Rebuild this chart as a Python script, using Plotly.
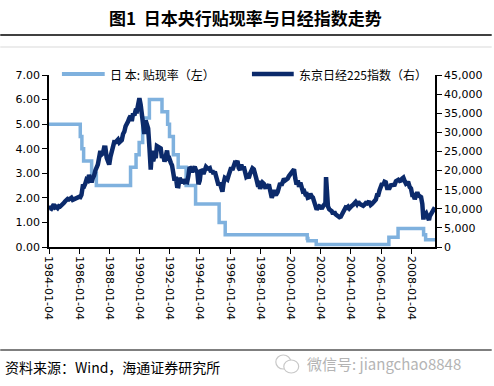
import plotly.graph_objects as go
import pandas as pd

# ---------------- data ----------------
title_text = "图1  日本央行贴现率与日经指数走势"
source_text = "资料来源：Wind，海通证券研究所"
watermark_text = "微信号: jiangchao8848"
rate_name = "日 本: 贴现率（左）"
nikkei_name = "东京日经225指数（右）"

tick_dates = ["1984-01-04", "1986-01-04", "1988-01-04", "1990-01-04", "1992-01-04",
              "1994-01-04", "1996-01-04", "1998-01-04", "2000-01-04", "2002-01-04",
              "2004-01-04", "2006-01-04", "2008-01-04"]

# Japan discount rate (%), step changes
rate_dates = ["1984-01-04", "1986-01-30", "1986-03-10", "1986-04-21", "1986-11-01",
              "1987-02-23", "1989-05-31", "1989-10-11", "1989-12-25", "1990-03-20",
              "1990-08-30", "1991-07-01", "1991-11-14", "1991-12-30", "1992-04-01",
              "1992-07-27", "1993-02-04", "1993-09-21", "1995-04-14", "1995-09-08",
              "2001-02-13", "2001-03-01", "2001-09-19", "2006-07-14", "2007-02-21",
              "2008-10-31", "2008-12-19", "2009-08-03"]
rate_values = [5.0, 4.5, 4.0, 3.5, 3.0,
               2.5, 3.25, 3.75, 4.25, 5.25,
               6.0, 5.5, 5.0, 4.5, 3.75,
               3.25, 2.5, 1.75, 1.0, 0.5,
               0.35, 0.25, 0.1, 0.4, 0.75,
               0.5, 0.3, 0.3]

# Nikkei 225, month-end closes Jan 1984 .. Jul 2009
nikkei_start_date = "1984-01-04"
nikkei_start_value = 9927
nikkei_monthly = [
    10196, 10024, 11042, 11174, 10338, 10503, 10196, 10686, 10579, 11076, 11204, 11543,
    11992, 12321, 12580, 12426, 12635, 12882, 12353, 12551, 12700, 12826, 12895, 13113,
    13024, 13640, 15859, 15825, 16576, 17654, 17419, 18820, 17852, 16911, 18053, 18701,
    20048, 20766, 21567, 23275, 25142, 24176, 24488, 26029, 26011, 23329, 22687, 21564,
    23622, 25242, 26260, 27434, 27418, 27769, 28112, 27366, 27924, 27983, 29579, 30159,
    31581, 31985, 32839, 33713, 34267, 32949, 34954, 34431, 35637, 35549, 37269, 38916,
    37189, 34592, 29980, 29584, 33131, 31940, 31036, 25978, 20984, 25194, 22455, 23849,
    23293, 26409, 26292, 26112, 25790, 23291, 24121, 22336, 23916, 25222, 22688, 22984,
    22023, 21339, 19346, 17391, 18348, 15952, 15910, 18061, 17399, 16767, 17684, 16925,
    17024, 16953, 18591, 20919, 20552, 19590, 20380, 21027, 20106, 19704, 16408, 17417,
    20229, 19997, 19112, 19725, 20973, 20644, 20462, 20629, 19564, 19990, 19076, 19723,
    18650, 17053, 16140, 16807, 15437, 14517, 16678, 18117, 17913, 17655, 18744, 19868,
    20813, 20125, 21407, 22041, 21956, 22531, 20693, 20167, 21556, 20466, 21020, 19361,
    18330, 18557, 18003, 19151, 20069, 20605, 20331, 18229, 17888, 16459, 16636, 15259,
    16628, 16832, 16527, 15641, 15671, 15830, 16379, 14108, 13406, 13565, 14884, 13842,
    13859, 14368, 15837, 16702, 16112, 17530, 17862, 17437, 17606, 17943, 18558, 18934,
    19540, 19960, 20337, 17974, 16332, 17411, 15727, 16861, 15747, 14539, 14649, 13786,
    13844, 12883, 12999, 13934, 13262, 12969, 11861, 10714, 9775, 10367, 10697, 10543,
    9998, 10588, 11025, 11493, 11764, 10622, 9877, 9619, 9383, 8640, 9216, 8579,
    8340, 8363, 7973, 7831, 8425, 9083, 9563, 10344, 10219, 10560, 10101, 10677,
    10784, 11042, 11715, 11762, 11236, 11859, 11326, 11082, 10824, 10771, 11069, 11489,
    11388, 11741, 11669, 11009, 11277, 11584, 11900, 12414, 13574, 13607, 14872, 16111,
    16650, 16205, 17060, 16906, 15467, 15505, 15457, 16141, 16128, 16399, 16274, 17226,
    17383, 17604, 17288, 17400, 17876, 18138, 17249, 16569, 16786, 16738, 15681, 15308,
    13592, 13603, 12526, 13850, 14339, 13481, 13377, 13073, 11260, 8577, 8512, 8860,
    7994, 7568, 8110, 8828, 9523, 9958, 10357,
]
# intra-month extremes visible in the daily series
nikkei_extra_dates = ["1990-10-01", "1995-07-03", "1998-10-09", "2002-05-15",
                      "2003-04-28", "2008-10-27", "2009-03-10"]
nikkei_extra_values = [20222, 14485, 12879, 18300, 7608, 7163, 7055]

# ---------------- build series ----------------
month_ends = pd.date_range("1984-01-31", periods=len(nikkei_monthly), freq="ME")
nk = pd.Series([nikkei_start_value] + nikkei_monthly,
               index=pd.to_datetime([nikkei_start_date]).append(month_ends))
nk = pd.concat([nk, pd.Series(nikkei_extra_values, index=pd.to_datetime(nikkei_extra_dates))]).sort_index()

light_blue = "#7FB1DE"
navy = "#0B2A6B"
cjk = "Noto Sans CJK SC"

fig = go.Figure()
fig.add_trace(go.Scatter(x=rate_dates, y=rate_values, mode="lines", line_shape="hv",
                         line=dict(color=light_blue, width=3.5), name=rate_name,
                         showlegend=False))
fig.add_trace(go.Scatter(x=nk.index, y=nk.values, mode="lines", yaxis="y2",
                         line=dict(color=navy, width=4.5), name=nikkei_name,
                         showlegend=False))

# pixel -> paper helpers (plot area: x 49..437, y 75..247)
L, R, T, B = 49, 437, 75, 247
def px(x):
    return (x - L) / (R - L)
def py(y):
    return (B - y) / (B - T)

shapes = [
    dict(type="line", xref="paper", yref="paper", x0=px(0), x1=px(494), y0=py(35), y1=py(35),
         line=dict(color="black", width=1.5)),
    dict(type="line", xref="paper", yref="paper", x0=px(0), x1=px(494), y0=py(47), y1=py(47),
         line=dict(color="#D9D9D9", width=1)),
    dict(type="line", xref="paper", yref="paper", x0=px(0), x1=px(494), y0=py(350), y1=py(350),
         line=dict(color="black", width=1.2)),
    # legend symbols
    dict(type="line", xref="paper", yref="paper", x0=px(62), x1=px(105), y0=py(74), y1=py(74),
         line=dict(color=light_blue, width=4)),
    dict(type="line", xref="paper", yref="paper", x0=px(253), x1=px(295), y0=py(74), y1=py(74),
         line=dict(color=navy, width=4.5)),
    # watermark icon (two bubbles)
    dict(type="circle", xref="paper", yref="paper", x0=px(277), x1=px(292), y0=py(369), y1=py(355),
         line=dict(color="#C8C8C8", width=1.2)),
    dict(type="circle", xref="paper", yref="paper", x0=px(285), x1=px(300), y0=py(373), y1=py(360),
         line=dict(color="#C8C8C8", width=1.2), fillcolor="white"),
]

annotations = [
    dict(text="<b>" + title_text + "</b>", xref="paper", yref="paper", x=px(247), y=py(17),
         xanchor="center", yanchor="middle", showarrow=False,
         font=dict(family=cjk, size=17, color="black")),
    dict(text=rate_name, xref="paper", yref="paper", x=px(108), y=py(74),
         xanchor="left", yanchor="middle", showarrow=False,
         font=dict(family=cjk, size=12, color="black")),
    dict(text=nikkei_name, xref="paper", yref="paper", x=px(298), y=py(74),
         xanchor="left", yanchor="middle", showarrow=False,
         font=dict(family=cjk, size=12, color="black")),
    dict(text=source_text, xref="paper", yref="paper", x=px(3), y=py(367),
         xanchor="left", yanchor="middle", showarrow=False,
         font=dict(family=cjk, size=14, color="black")),
    dict(text=watermark_text, xref="paper", yref="paper", x=px(306), y=py(363),
         xanchor="left", yanchor="middle", showarrow=False,
         font=dict(family=cjk, size=15, color="#B4B4B4")),
]

tick_font = dict(family="DejaVu Sans", size=11, color="black")

fig.update_layout(
    width=494, height=386,
    margin=dict(l=L, r=494 - R, t=T, b=386 - B, pad=0),
    paper_bgcolor="white", plot_bgcolor="white",
    showlegend=False,
    shapes=shapes, annotations=annotations,
    xaxis=dict(type="date", range=["1984-01-04", "2009-08-03"],
               tickvals=tick_dates, ticktext=tick_dates, tickangle=90,
               showgrid=False, zeroline=False, showline=True, linecolor="black", linewidth=1.5,
               ticks="outside", ticklen=5, tickcolor="black", tickfont=tick_font),
    yaxis=dict(range=[0, 7], dtick=1, tickformat=".2f", showgrid=False, zeroline=False,
               showline=True, linecolor="black", linewidth=1.5,
               ticks="outside", ticklen=5, tickcolor="black", tickfont=tick_font),
    yaxis2=dict(range=[0, 45000], dtick=5000, tickformat=",d", overlaying="y", side="right",
                showgrid=False, zeroline=False, showline=True, linecolor="black", linewidth=1.5,
                ticks="outside", ticklen=5, tickcolor="black", tickfont=tick_font),
)

fig.write_html("out.html", config={"displayModeBar": False},
               post_script="document.body.style.margin='0';")
